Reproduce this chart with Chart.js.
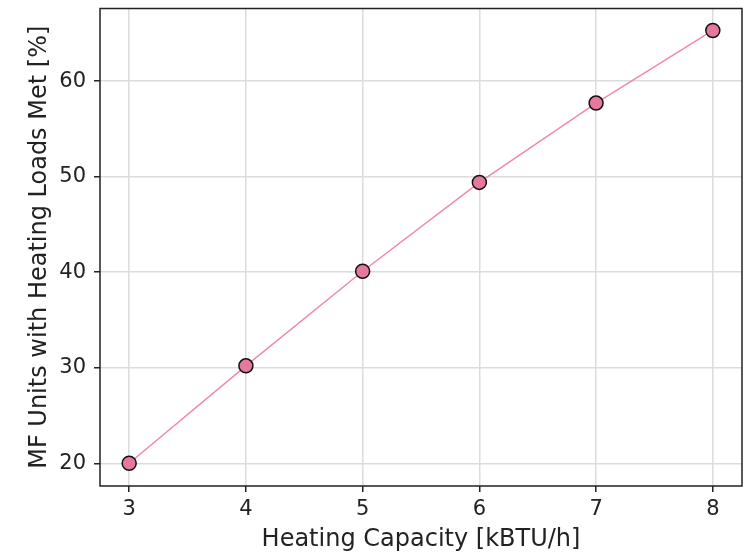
<!DOCTYPE html>
<html>
<head>
<meta charset="utf-8">
<script src="https://cdn.jsdelivr.net/npm/chart.js@4/dist/chart.umd.min.js"></script>
<style>
html,body{margin:0;padding:0;background:#fff;}
#wrap{width:753px;height:554px;}
</style>
</head>
<body>
<div id="wrap"><canvas id="c" width="753" height="554"></canvas></div>
<script>
const capacities = [3, 4, 5, 6, 7, 8];
const percentMet = [20.0, 30.2, 40.1, 49.4, 57.7, 65.3];
const xTicks = [3, 4, 5, 6, 7, 8];
const yTicks = [20, 30, 40, 50, 60];
const xTitle = 'Heating Capacity [kBTU/h]';
const yTitle = 'MF Units with Heating Loads Met [%]';

const FONT = '"DejaVu Sans", sans-serif';

const frame = {
  id: 'frame',
  afterDatasetsDraw(chart) {
    const a = chart.chartArea, ctx = chart.ctx;
    ctx.save();
    ctx.strokeStyle = '#222';
    ctx.lineWidth = 1.5;
    ctx.strokeRect(a.left, a.top, a.right - a.left, a.bottom - a.top);
    ctx.restore();
  }
};

new Chart(document.getElementById('c'), {
  type: 'line',
  data: {
    datasets: [{
      data: capacities.map((x, i) => ({x: x, y: percentMet[i]})),
      borderColor: '#f08aa6',
      borderWidth: 1.5,
      backgroundColor: '#e5789b',
      pointBackgroundColor: '#e5789b',
      pointBorderColor: '#111',
      pointBorderWidth: 1.5,
      pointRadius: 7,
      tension: 0,
      clip: false
    }]
  },
  plugins: [frame],
  options: {
    responsive: false,
    animation: false,
    layout: {padding: {top: 7, right: 11, left: 0, bottom: 0}},
    plugins: {legend: {display: false}, tooltip: {enabled: false}},
    scales: {
      x: {
        type: 'linear',
        min: 2.75, max: 8.25,
        afterBuildTicks(s) { s.ticks = xTicks.map(v => ({value: v})); },
        afterFit(s) { s.height = 68; s.paddingLeft = 0; s.paddingRight = 0; },
        grid: {color: '#dcdcdc', lineWidth: 1.5, tickColor: '#222', tickLength: 6, drawTicks: true},
        border: {display: false},
        ticks: {color: '#222', font: {family: FONT, size: 21}, padding: 5, maxRotation: 0},
        title: {display: true, text: xTitle, color: '#222', font: {family: FONT, size: 24}, padding: {top: 0, bottom: 0}}
      },
      y: {
        type: 'linear',
        min: 17.62, max: 67.6,
        afterBuildTicks(s) { s.ticks = yTicks.map(v => ({value: v})); },
        afterFit(s) { s.width = 100; s.paddingTop = 0; s.paddingBottom = 0; },
        grid: {color: '#dcdcdc', lineWidth: 1.5, tickColor: '#222', tickLength: 6, drawTicks: true},
        border: {display: false},
        ticks: {color: '#222', font: {family: FONT, size: 21}, padding: 8},
        title: {display: true, text: yTitle, color: '#222', font: {family: FONT, size: 24}, padding: {top: 25, bottom: 0}}
      }
    }
  }
});
</script>
</body>
</html>
